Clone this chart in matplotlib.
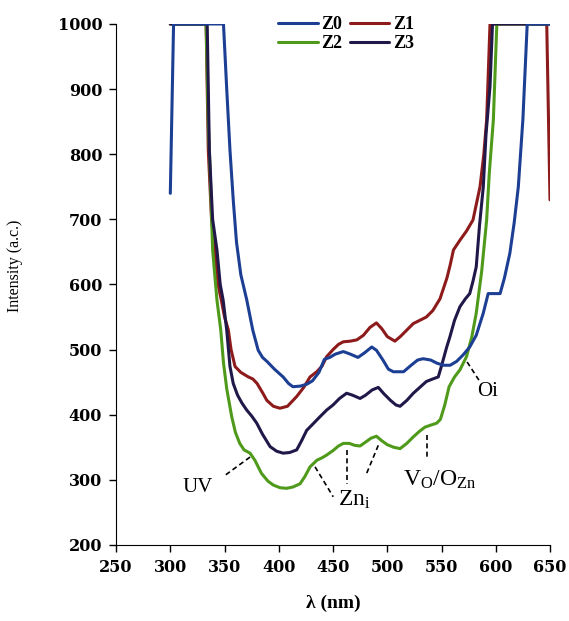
import matplotlib
matplotlib.use('Agg')
import matplotlib.pyplot as plt

plt.rcParams['font.family'] = ['Liberation Serif', 'DejaVu Serif']
plt.rcParams['mathtext.default'] = 'regular'

# emission spectra, wavelength (nm) / intensity (a.c.)
z0_wl = [300, 303, 349, 352, 355, 358, 361, 365, 370.5, 376, 381, 385, 389, 396, 404, 409, 413,
         420, 426, 431, 437, 442, 447, 452, 459.5, 466, 473, 479, 485.7, 490, 496, 501,
         505.6, 515, 522, 528, 533, 540, 546, 552, 558, 564, 570, 576, 582, 588.5, 593,
         599, 604, 608, 613, 617, 620.8, 625, 629, 650]
z0_int = [740, 1000, 1000, 900, 806, 730, 665, 615, 576, 530, 499, 488, 482, 470, 458, 448, 443,
          444, 447, 452, 465, 485, 488, 493, 497, 493, 488, 495, 504, 499, 484, 470,
          466, 466, 476, 484, 486, 484, 479, 476, 476, 482, 492, 504, 522, 556, 586,
          586, 586, 610, 648, 695, 750, 853, 1000, 1000]

z1_wl = [300, 333, 335, 338, 341, 344, 347, 350, 353.5, 356, 359.7, 365, 372, 376, 380, 385,
         389, 395, 401, 408, 416.5, 423, 428.8, 435, 440, 444, 450, 455, 459.5, 466, 472,
         478, 484, 490, 495, 500, 507, 512, 518, 524, 530, 536, 542, 548.6, 552, 555, 558,
         561, 567, 573, 579, 585.5, 589, 591.6, 594.7, 647, 650]
z1_int = [1000, 1000, 806, 700, 653, 600, 576, 550, 530, 500, 474, 465, 458, 455, 448, 434,
          422, 413, 410, 413, 428, 442, 458, 466, 475, 489, 500, 508, 512, 513, 515,
          522, 534, 541, 532, 520, 513, 520, 530, 540, 545, 550, 560, 578, 595, 610, 630,
          653, 668, 682, 699, 750, 800, 853, 1000, 1000, 730]

z2_wl = [300, 333, 335, 337, 339, 343, 346.5, 349, 352, 356.6, 360, 364, 368, 373.5, 378, 384,
         390, 395, 401, 407, 413, 419.6, 424, 428.8, 435, 440, 444, 450, 455, 459.5, 465,
         470, 474.9, 480, 485, 490, 495, 500, 506, 511.8, 518, 524, 530, 534.8, 540, 545.5,
         549, 553, 557, 562, 567, 573, 578, 582, 587, 591.6, 594, 597.8, 601, 650]
z2_int = [1000, 1000, 850, 760, 653, 576, 530, 480, 440, 397, 373, 356, 346, 341, 330, 310,
          298, 292, 288, 287, 289, 294, 305, 320, 330, 334, 338, 345, 352, 356, 356,
          353, 352, 358, 364, 367, 360, 354, 350, 348, 356, 366, 375, 381, 384, 387,
          393, 415, 443, 458, 469, 489, 520, 556, 620, 699, 770, 853, 1000, 1000]

z3_wl = [300, 334, 336, 339, 343, 346, 348.7, 352, 355, 358, 362, 366, 370.5, 375, 379.7, 385,
         392, 398, 404, 410, 416.5, 421, 425.7, 431, 438, 444, 450, 456, 462.5, 468, 474.9,
         480, 486, 491.7, 497, 503, 508, 511.8, 518, 524, 530, 536, 542, 547, 550, 554.8,
         557.8, 562, 567, 572, 576, 579, 582, 585, 588.5, 591, 594.7, 597, 650]
z3_int = [1000, 1000, 806, 700, 653, 600, 576, 530, 474, 448, 430, 418, 407, 398, 387, 370,
          351, 344, 341, 342, 346, 360, 376, 385, 397, 407, 415, 425, 433, 430, 425,
          430, 438, 442, 432, 422, 415, 413, 422, 433, 442, 451, 455, 458, 475, 504,
          520, 545, 566, 578, 586, 605, 627, 690, 750, 830, 904, 1000, 1000]

colors = {'Z0': '#1c3f94', 'Z1': '#8e1b1b', 'Z2': '#4f9a1a', 'Z3': '#21184a'}

fig = plt.figure(figsize=(5.69, 6.21), dpi=100)
ax = fig.add_axes([0.204, 0.1224, 0.7626, 0.839])

style = dict(lw=2.2, solid_joinstyle='round', solid_capstyle='round')
l1, = ax.plot(z1_wl, z1_int, color=colors['Z1'], label='Z1', **style)
l2, = ax.plot(z2_wl, z2_int, color=colors['Z2'], label='Z2', **style)
l3, = ax.plot(z3_wl, z3_int, color=colors['Z3'], label='Z3', **style)
l0, = ax.plot(z0_wl, z0_int, color=colors['Z0'], label='Z0', **style)

ax.set_xlim(250, 650)
ax.set_ylim(200, 1000)
ax.set_xticks(range(250, 651, 50))
ax.set_yticks(range(200, 1001, 100))
ax.spines['top'].set_visible(False)
ax.spines['right'].set_visible(False)
ax.tick_params(direction='out', length=5, width=1, pad=5)
for lab in ax.get_xticklabels() + ax.get_yticklabels():
    lab.set_fontfamily('DejaVu Serif')
    lab.set_fontweight('bold')
    lab.set_fontsize(11.5)

ax.set_xlabel('λ (nm)', fontsize=14, fontweight='bold')
ax.xaxis.set_label_coords(0.5, -0.095)
ax.set_ylabel('Intensity (a.c.)', fontsize=11.5)
ax.yaxis.set_label_coords(-0.215, 0.535)

fig.legend([l0, l2, l1, l3], ['Z0', 'Z2', 'Z1', 'Z3'], ncol=2, loc='upper center',
           bbox_to_anchor=(346 / 569, 1.0), frameon=False,
           prop={'size': 13, 'weight': 'bold'}, handlelength=2.2,
           handletextpad=0.2, columnspacing=0.4, labelspacing=0.1)

# defect-level markers
dash = dict(color='black', lw=1.2, ls=(0, (3, 2)))
ax.plot([373.5, 348.8], [335, 305], **dash)
ax.text(325.6, 289, 'UV', fontsize=15, ha='center', va='center')

ax.plot([433.4, 450.2], [320, 274], **dash)
ax.plot([462.5, 462.5], [346, 294], **dash)
ax.plot([491.7, 481], [353, 310], **dash)
ax.text(470, 269, r'$Zn_i$', fontsize=17, ha='center', va='center')

ax.plot([536.3, 536.3], [369, 333], **dash)
ax.text(548.6, 300, r'$V_O/O_{Zn}$', fontsize=17, ha='center', va='center')

ax.plot([573.6, 585.3], [481, 451], **dash)
ax.text(592, 435, 'Oi', fontsize=15, ha='center', va='center')

fig.savefig('out.png', dpi=100)
